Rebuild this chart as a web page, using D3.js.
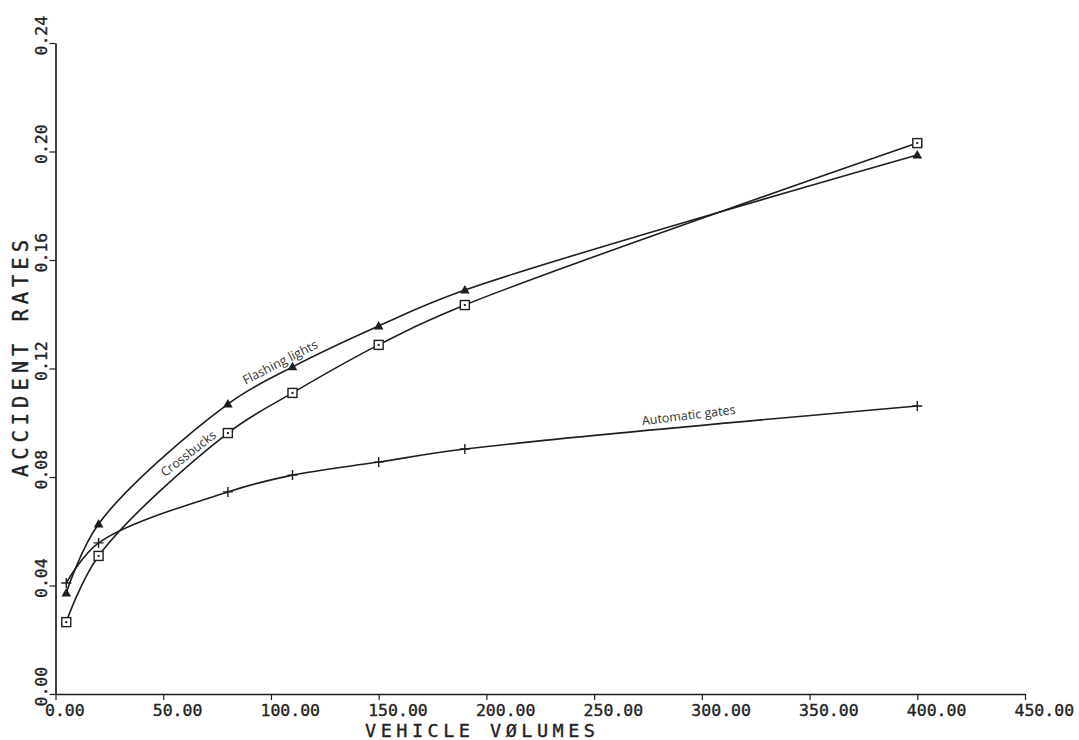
<!DOCTYPE html>
<html>
<head>
<meta charset="utf-8">
<script src="https://cdn.jsdelivr.net/npm/d3@7/dist/d3.min.js"></script>
<style>
  html, body { margin: 0; padding: 0; background: #fff; }
  svg { display: block; }
  .plot-font { font-family: "DejaVu Sans Mono", "Liberation Mono", monospace; fill: #222; stroke: #222; stroke-width: 0.35px; }
  .series-label { font-family: "Open Sans", "Noto Sans", sans-serif; fill: #333; font-size: 12.5px; }
</style>
</head>
<body>
<svg id="chart" width="1079" height="740"></svg>
<script>
// Vehicle volumes at which each crossing type was evaluated
const volumes = [5, 20, 80, 110, 150, 190, 400];

// Accident rates by warning device
const flashingLights = [0.0372, 0.0627, 0.1069, 0.1206, 0.1357, 0.1489, 0.1987];
const crossbucks     = [0.0265, 0.0509, 0.0962, 0.1110, 0.1287, 0.1434, 0.2031];
const automaticGates = [0.0409, 0.0557, 0.0745, 0.0807, 0.0855, 0.0903, 0.1062];

// Axis ticks
const xTicks = [0, 50, 100, 150, 200, 250, 300, 350, 400, 450];
const yTicks = [0, 0.04, 0.08, 0.12, 0.16, 0.20, 0.24];

const svg = d3.select("#chart");
const x = d3.scaleLinear().domain([0, 450]).range([55.5, 1025]);
const y = d3.scaleLinear().domain([0, 0.24]).range([694, 43]);

const ink = "#1e1e1e";

// ---- axes ----
const xAxis = svg.append("g")
  .attr("transform", `translate(0,${y(0)})`)
  .call(d3.axisBottom(x).tickValues(xTicks).tickSize(6).tickSizeOuter(0)
    .tickFormat(d3.format(".2f")));
xAxis.attr("font-family", null).attr("font-size", null);
xAxis.select(".domain").attr("stroke", ink).attr("stroke-width", 1.7);
xAxis.selectAll(".tick line").attr("stroke", ink).attr("stroke-width", 1.2);
xAxis.selectAll(".tick text")
  .attr("class", "plot-font")
  .attr("fill", null)
  .attr("font-size", 16.5)
  .attr("text-anchor", "start")
  .attr("x", -11)
  .attr("y", 22)
  .attr("dy", null);

const yAxis = svg.append("g")
  .attr("transform", `translate(${x(0)},0)`)
  .call(d3.axisLeft(y).tickValues(yTicks).tickSize(6).tickSizeOuter(0)
    .tickFormat(d3.format(".2f")));
yAxis.attr("font-family", null).attr("font-size", null);
yAxis.select(".domain").attr("stroke", ink).attr("stroke-width", 1.7);
yAxis.selectAll(".tick line").attr("stroke", ink).attr("stroke-width", 1.2);
yAxis.selectAll(".tick text")
  .attr("class", "plot-font")
  .attr("fill", null)
  .attr("font-size", 16.5)
  .attr("text-anchor", "start")
  .attr("transform", "rotate(-90)")
  .attr("x", -12)
  .attr("y", -8.5)
  .attr("dy", null);

// axis titles
svg.append("text")
  .attr("class", "plot-font")
  .attr("x", 365).attr("y", 737)
  .attr("font-size", 18.5)
  .attr("textLength", 230).attr("lengthAdjust", "spacing")
  .text("VEHICLE VØLUMES");

svg.append("text")
  .attr("class", "plot-font")
  .attr("transform", "translate(28,477) rotate(-90)")
  .attr("font-size", 20.5)
  .attr("textLength", 237).attr("lengthAdjust", "spacing")
  .text("ACCIDENT RATES");

// ---- curves ----
const line = d3.line()
  .x(d => x(d[0]))
  .y(d => y(d[1]))
  .curve(d3.curveCatmullRom.alpha(0.5));

const series = [
  { name: "Flashing lights", values: flashingLights, marker: "triangle" },
  { name: "Crossbucks", values: crossbucks, marker: "square" },
  { name: "Automatic gates", values: automaticGates, marker: "plus" }
];

series.forEach(s => {
  const pts = volumes.map((v, i) => [v, s.values[i]]);
  svg.append("path")
    .datum(pts)
    .attr("d", line)
    .attr("fill", "none")
    .attr("stroke", ink)
    .attr("stroke-width", 1.6);

  const g = svg.append("g");
  pts.forEach(p => {
    const cx = x(p[0]), cy = y(p[1]);
    if (s.marker === "triangle") {
      g.append("path")
        .attr("d", `M${cx},${cy - 5}L${cx + 4.8},${cy + 3.5}L${cx - 4.8},${cy + 3.5}Z`)
        .attr("fill", ink);
    } else if (s.marker === "square") {
      g.append("rect")
        .attr("x", cx - 4.5).attr("y", cy - 4.5)
        .attr("width", 9).attr("height", 9)
        .attr("fill", "#fff").attr("stroke", ink).attr("stroke-width", 1.4);
      g.append("rect")
        .attr("x", cx - 1).attr("y", cy - 1)
        .attr("width", 2).attr("height", 2)
        .attr("fill", ink);
    } else {
      g.append("path")
        .attr("d", `M${cx - 5},${cy}H${cx + 5}M${cx},${cy - 5}V${cy + 5}`)
        .attr("stroke", ink).attr("stroke-width", 1.4);
    }
  });
});

// ---- curve labels, set along each curve ----
const curveLabels = [
  { text: "Flashing lights", at: [105.2, 0.1209], angle: -27 },
  { text: "Crossbucks", at: [62.9, 0.0874], angle: -38 },
  { text: "Automatic gates", at: [294.1, 0.1012], angle: -7 }
];

curveLabels.forEach(l => {
  svg.append("text")
    .attr("class", "series-label")
    .attr("transform", `translate(${x(l.at[0])},${y(l.at[1])}) rotate(${l.angle})`)
    .attr("text-anchor", "middle")
    .text(l.text);
});
</script>
</body>
</html>
